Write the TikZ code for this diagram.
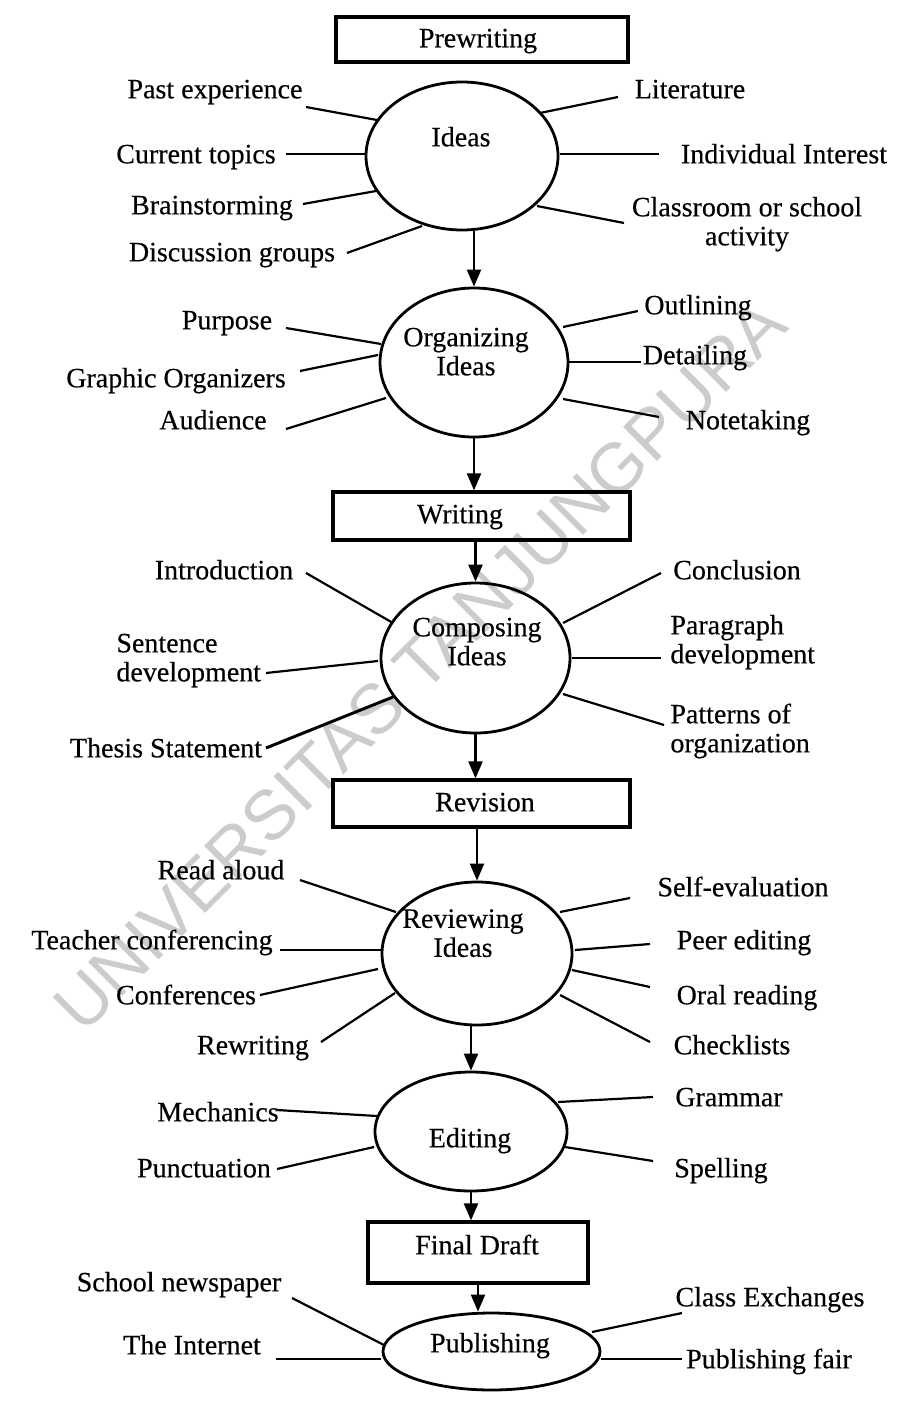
\documentclass[tikz,border=0pt]{standalone}
\usepackage{fontspec}
\setmainfont{Liberation Serif}
\newfontfamily\lblfont[FakeBold=0.35]{Liberation Serif}
\newfontfamily\wmfont{Liberation Sans}
\usetikzlibrary{arrows.meta,shapes.geometric}
\newcommand\spk[3]{\coordinate (#1a) at (#2); \coordinate (#1b) at (#3); \draw[spoke] (#1a) -- (#1b);}
\begin{document}
\begin{tikzpicture}[x=0.5pt,y=-0.5pt,
  lbl/.style={inner sep=0pt, font=\lblfont\fontsize{14}{14.5}\selectfont, text height=9.3pt, text depth=0pt},
  ell/.style={draw, ellipse, line width=1.4pt, inner sep=0pt},
  box/.style={draw, rectangle, line width=1.6pt, inner sep=0pt},
  arr/.style={-{Triangle[length=8.5pt,width=7pt]}, line width=1.1pt},
  spoke/.style={line width=1.1pt},
  wm/.style={inner sep=0pt, text=black!20, font=\wmfont\fontsize{35}{35}\selectfont, rotate=45}
]
\useasboundingbox (0,0) rectangle (906,1402);
\fill[white] (0,0) rectangle (906,1402);

\node[wm] (wm) at (420,665) {UNIVERSITAS TANJUNGPURA};

% main column
\node[box, minimum width=146pt, minimum height=22.5pt] (prewrite) at (482,39.5) {};
\node[lbl] (prewriteT) at (478,38) {Prewriting};

\node[ell, minimum width=96pt, minimum height=74pt] (ideas) at (462,156) {};
\node[lbl] (ideasT) at (461,137) {Ideas};

\node[ell, minimum width=94pt, minimum height=74.5pt] (org) at (474,362.5) {};
\node[lbl, align=center] (orgT) at (466,366) {Organizing\\Ideas};

\node[box, minimum width=148.5pt, minimum height=24pt] (writing) at (481.5,516) {};
\node[lbl] (writingT) at (460,514) {Writing};

\node[ell, minimum width=94.5pt, minimum height=75pt] (comp) at (475.5,658) {};
\node[lbl, align=center] (compT) at (477,656) {Composing\\Ideas};

\node[box, minimum width=148.5pt, minimum height=23.5pt] (revision) at (481.5,803.5) {};
\node[lbl] (revisionT) at (485,802) {Revision};

\node[ell, minimum width=95pt, minimum height=71.5pt] (review) at (477,953.5) {};
\node[lbl, align=center] (reviewT) at (463,947.5) {Reviewing\\Ideas};

\node[ell, minimum width=96pt, minimum height=59.5pt] (edit) at (471,1131.5) {};
\node[lbl] (editT) at (470,1138) {Editing};

\node[box, minimum width=110pt, minimum height=30.5pt] (final) at (478,1252.5) {};
\node[lbl] (finalT) at (477,1245) {Final Draft};

\node[ell, minimum width=108.5pt, minimum height=38.5pt] (pub) at (491.5,1351.5) {};
\node[lbl] (pubT) at (490,1343) {Publishing};

% arrows
\draw[arr] (ideas.south -| org.north) -- (org.north);
\draw[arr] (org.south) -- (org.south |- writing.north);
\draw[arr] (writing.south -| comp.north) -- (comp.north);
\draw[arr] (comp.south) -- (comp.south |- revision.north);
\draw[arr] (revision.south -| review.north) -- (review.north);
\draw[arr] (review.south -| edit.north) -- (edit.north);
\draw[arr] (edit.south) -- (edit.south |- final.north);
\draw[arr] (final.south) -- (final.south |- pub.north);

% Ideas labels
\node[lbl] (pe) at (215,89) {Past experience};
\node[lbl] (ct) at (196,154) {Current topics};
\node[lbl] (bs) at (212,205) {Brainstorming};
\node[lbl] (dg) at (232,252) {Discussion groups};
\node[lbl] (li) at (690,89) {Literature};
\node[lbl] (ii) at (784,154) {Individual Interest};
\node[lbl, align=center] (cs) at (747,236) {Classroom or school\\activity};
\spk{spe}{306,107}{377,120}
\spk{sct}{286,154}{367,154}
\spk{sbs}{303,204}{376,191}
\spk{sdg}{347,253}{422,226}
\spk{sli}{540,113}{618,97}
\spk{sii}{560,154}{659,154}
\spk{scs}{537,206}{624,223}

% Organizing labels
\node[lbl] (pu) at (227,320) {Purpose};
\node[lbl] (go) at (176,378) {Graphic Organizers};
\node[lbl] (au) at (213,420) {Audience};
\node[lbl] (ou) at (698,305) {Outlining};
\node[lbl] (de) at (695,355) {Detailing};
\node[lbl] (no) at (748,420) {Notetaking};
\spk{spu}{286,328}{381,344}
\spk{sgo}{300,371}{378,355}
\spk{sau}{286,429}{386,398}
\spk{sou}{563,327}{638,311}
\spk{sde}{569,362}{641,362}
\spk{sno}{563,399}{659,417}

% Composing labels
\node[lbl] (intro) at (224,570) {Introduction};
\node[lbl, align=left, anchor=west] (sd) at (116,672) {Sentence\\development};
\node[lbl] (ts) at (166,748) {Thesis Statement};
\node[lbl] (concl) at (737,570) {Conclusion};
\node[lbl, align=left, anchor=west] (pd) at (670,654) {Paragraph\\development};
\node[lbl, align=left, anchor=west] (po) at (670,743) {Patterns of\\organization};
\spk{sin}{306,573}{393,623}
\spk{ssd}{266,673}{378,661}
\coordinate (stsa) at (266,748); \coordinate (stsb) at (393,697);
\draw[spoke, line width=1.5pt] (stsa) -- (stsb);
\spk{sco}{563,623}{661,573}
\spk{spd}{572,658}{661,658}
\spk{spo}{563,694}{664,725}

% Reviewing labels
\node[lbl] (ra) at (221,870) {Read aloud};
\node[lbl] (tc) at (152,940) {Teacher conferencing};
\node[lbl] (cf) at (186,995) {Conferences};
\node[lbl] (rw) at (253,1045) {Rewriting};
\node[lbl] (se) at (743,887) {Self-evaluation};
\node[lbl] (ped) at (744,940) {Peer editing};
\node[lbl] (orr) at (747,995) {Oral reading};
\node[lbl] (cl) at (732,1045) {Checklists};
\spk{sra}{300,880}{396,912}
\spk{stc}{280,950}{381,950}
\spk{scf}{260,995}{378,969}
\spk{srw}{321,1042}{395,993}
\spk{sse}{560,912}{630,898}
\spk{sped}{575,950}{650,944}
\spk{sorr}{572,970}{650,987}
\spk{scl}{560,995}{650,1042}

% Editing labels
\node[lbl] (me) at (218,1112) {Mechanics};
\node[lbl] (pn) at (204,1168) {Punctuation};
\node[lbl] (gr) at (729,1097) {Grammar};
\node[lbl] (sp) at (721,1168) {Spelling};
\spk{sme}{277,1110}{377,1116}
\spk{spn}{277,1169}{374,1147}
\spk{sgr}{558,1102}{653,1097}
\spk{ssp}{565,1147}{653,1161}

% Publishing labels
\node[lbl] (sn) at (179,1282) {School newspaper};
\node[lbl] (ti) at (192,1345) {The Internet};
\node[lbl] (ce) at (770,1297) {Class Exchanges};
\node[lbl] (pf) at (769,1359) {Publishing fair};
\spk{ssn}{292,1298}{384,1345}
\spk{sti}{276,1359}{381,1359}
\spk{sce}{592,1332}{682,1313}
\spk{spf}{601,1359}{682,1359}
\end{tikzpicture}
\end{document}
